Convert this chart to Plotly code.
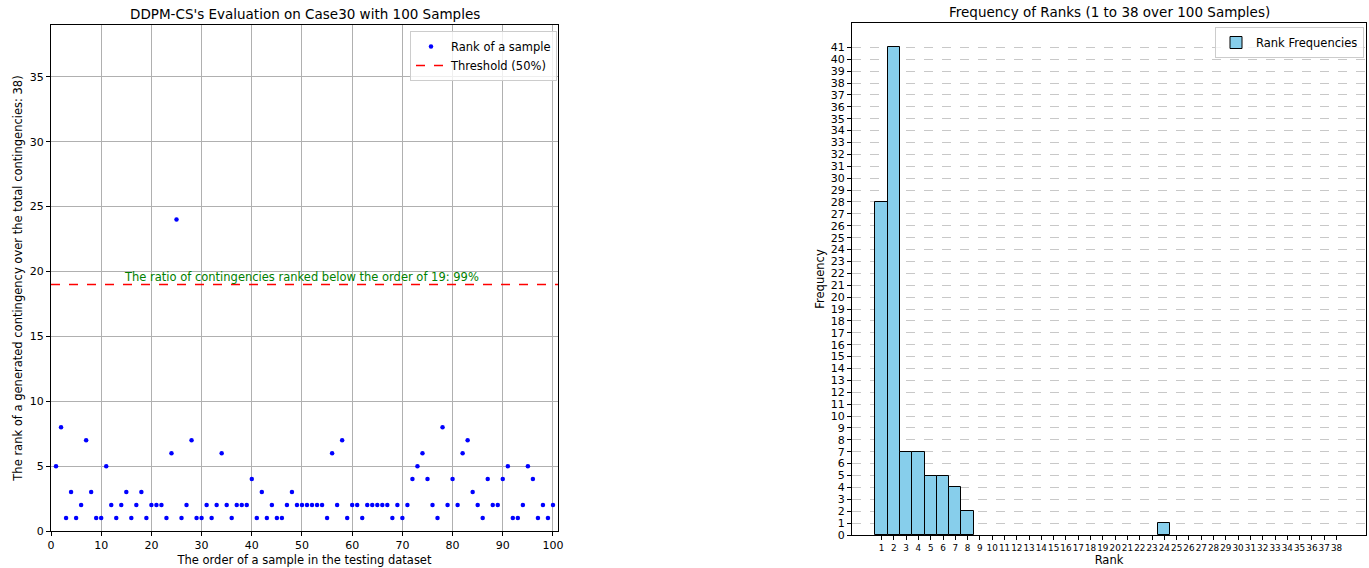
import plotly.graph_objects as go

# ---- data ----
sample_order = list(range(1, 101))
sample_rank = [5, 8, 1, 3, 1, 2, 7, 3, 1, 1,
               5, 2, 1, 2, 3, 1, 2, 3, 1, 2,
               2, 2, 1, 6, 24, 1, 2, 7, 1, 1,
               2, 1, 2, 6, 2, 1, 2, 2, 2, 4,
               1, 3, 1, 2, 1, 1, 2, 3, 2, 2,
               2, 2, 2, 2, 1, 6, 2, 7, 1, 2,
               2, 1, 2, 2, 2, 2, 2, 1, 2, 1,
               2, 4, 5, 6, 4, 2, 1, 8, 2, 4,
               2, 6, 7, 3, 2, 1, 4, 2, 2, 4,
               5, 1, 1, 2, 5, 4, 1, 2, 1, 2]
threshold = 19
total_contingencies = 38
left_xticks = list(range(0, 101, 10))
left_yticks = list(range(0, 36, 5))
right_xticks = list(range(1, 39))
right_yticks = list(range(0, 42))

W, H = 1369, 568
FONT = "DejaVu Sans"

def fx(px):
    return px / W

def fy(py):
    return 1 - py / H

fig = go.Figure()

fig.add_trace(go.Scatter(
    x=sample_order, y=sample_rank, mode="markers",
    marker=dict(color="blue", size=4.5),
    name="Rank of a sample", xaxis="x", yaxis="y", legend="legend"))

fig.add_trace(go.Scatter(
    x=[0, 101], y=[threshold, threshold], mode="lines",
    line=dict(color="red", dash="dash", width=1.5),
    name="Threshold (50%)", xaxis="x", yaxis="y", legend="legend"))

fig.add_trace(go.Histogram(
    x=sample_rank, xbins=dict(start=0.5, end=38.5, size=1),
    marker=dict(color="skyblue", line=dict(color="black", width=1)),
    name="Rank Frequencies", xaxis="x2", yaxis="y2", legend="legend2"))

axis_common = dict(showline=True, linecolor="black", linewidth=1, mirror=True,
                   ticks="outside", ticklen=4, tickcolor="black", automargin=False,
                   zeroline=False, tickfont=dict(family=FONT, size=11, color="black"))

fig.update_layout(
    width=W, height=H, margin=dict(l=0, r=0, t=0, b=0),
    plot_bgcolor="white", paper_bgcolor="white",
    font=dict(family=FONT, color="black"),
    xaxis=dict(domain=[fx(51), fx(558)], range=[0, 101], tickvals=left_xticks,
               showgrid=True, gridcolor="#b0b0b0", gridwidth=1,
               title=dict(text="The order of a sample in the testing dataset",
                          font=dict(size=11.5), standoff=4),
               anchor="y", **axis_common),
    yaxis=dict(domain=[fy(531), fy(25)], range=[0, 39], tickvals=left_yticks,
               showgrid=True, gridcolor="#b0b0b0", gridwidth=1,
               title=dict(text=f"The rank of a generated contingency over the total contingencies: {total_contingencies})",
                          font=dict(size=11.5), standoff=4),
               anchor="x", **axis_common),
    xaxis2=dict(domain=[fx(852), fx(1366)], range=[-1.4, 40.4], tickvals=right_xticks,
                showgrid=False, tickangle=0,
                title=dict(text="Rank", font=dict(size=11.5), standoff=4),
                anchor="y2", **{**axis_common, "tickfont": dict(family=FONT, size=8.8, color="black")}),
    yaxis2=dict(domain=[fy(535), fy(23)], range=[0, 43.05], tickvals=right_yticks,
                showgrid=True, gridcolor="rgba(176,176,176,0.7)", griddash="dash", gridwidth=1,
                title=dict(text="Frequency", font=dict(size=11.5), standoff=3),
                anchor="x2", **axis_common),
    bargap=0,
    legend=dict(x=fx(557), y=fy(31), xanchor="right", yanchor="top",
                bgcolor="rgba(255,255,255,0.8)", bordercolor="#cccccc", borderwidth=1,
                font=dict(family=FONT, size=11.5), tracegroupgap=0, itemwidth=30),
    legend2=dict(x=fx(1364), y=fy(27), xanchor="right", yanchor="top",
                 bgcolor="rgba(255,255,255,0.8)", bordercolor="#cccccc", borderwidth=1,
                 font=dict(family=FONT, size=11.5), itemwidth=30),
    annotations=[
        dict(text="DDPM-CS's Evaluation on Case30 with 100 Samples", x=fx(304.5), y=fy(14),
             xref="paper", yref="paper", showarrow=False, font=dict(size=13.5),
             xanchor="center", yanchor="middle"),
        dict(text="Frequency of Ranks (1 to 38 over 100 Samples)", x=fx(1109), y=fy(12),
             xref="paper", yref="paper", showarrow=False, font=dict(size=13.5),
             xanchor="center", yanchor="middle"),
        dict(text=f"The ratio of contingencies ranked below the order of {threshold}: 99%",
             x=50, y=threshold, xref="x", yref="y", showarrow=False, yanchor="bottom",
             xanchor="center", yshift=-2, font=dict(size=11.5, color="green")),
    ],
)

fig.write_html("out.html", config={"displayModeBar": False},
               post_script="document.body.style.margin='0px'; document.body.style.overflow='hidden';")
